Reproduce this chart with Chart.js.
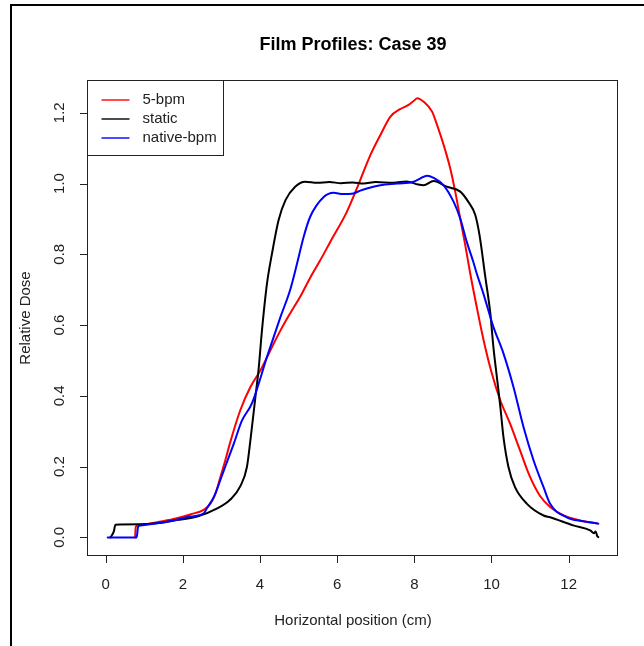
<!DOCTYPE html>
<html>
<head>
<meta charset="utf-8">
<title>Film Profiles: Case 39</title>
<script src="https://cdn.jsdelivr.net/npm/chart.js@4.4.1/dist/chart.umd.min.js"></script>
<style>
    html, body { margin: 0; padding: 0; background: #fff; }
    canvas { display: block; }
</style>
</head>
<body>
<canvas id="profileChart" width="644" height="646"></canvas>
<script>
// Profile data (position in cm, relative dose)
const fiveBpmX = [0.76, 0.78, 0.85, 1.33, 1.76, 2.19, 2.54, 2.71, 2.84, 2.97, 3.10, 3.23, 3.49, 3.75, 4.01, 4.27, 4.53, 4.78, 5.04, 5.30, 5.56, 5.82, 6.25, 6.51, 6.86, 7.12, 7.38, 7.63, 7.85, 7.98, 8.08, 8.24, 8.46, 8.59, 8.76, 8.93, 9.06, 9.19, 9.32, 9.45, 9.62, 9.79, 10.01, 10.23, 10.48, 10.74, 11.00, 11.26, 11.52, 11.87, 12.30, 12.73];
const fiveBpmY = [0, 0.030, 0.035, 0.043, 0.052, 0.065, 0.078, 0.095, 0.122, 0.170, 0.218, 0.270, 0.360, 0.425, 0.472, 0.529, 0.585, 0.633, 0.680, 0.734, 0.783, 0.835, 0.920, 0.986, 1.080, 1.137, 1.189, 1.210, 1.222, 1.233, 1.241, 1.231, 1.203, 1.165, 1.109, 1.043, 0.977, 0.901, 0.826, 0.745, 0.650, 0.560, 0.463, 0.387, 0.322, 0.246, 0.171, 0.117, 0.086, 0.062, 0.048, 0.040];

const staticX = [0.12, 0.21, 0.25, 0.90, 1.30, 1.76, 2.37, 2.89, 3.23, 3.49, 3.66, 3.75, 3.88, 3.96, 4.05, 4.18, 4.31, 4.48, 4.66, 4.91, 5.17, 5.48, 5.80, 6.10, 6.40, 6.68, 7.00, 7.46, 7.80, 8.10, 8.24, 8.50, 8.84, 9.19, 9.40, 9.58, 9.69, 9.84, 9.97, 10.05, 10.14, 10.23, 10.31, 10.44, 10.61, 10.92, 11.35, 11.52, 12.12, 12.56, 12.66, 12.70, 12.74, 12.77];
const staticY = [0, 0.017, 0.036, 0.037, 0.040, 0.048, 0.059, 0.082, 0.107, 0.145, 0.199, 0.274, 0.397, 0.472, 0.585, 0.717, 0.802, 0.896, 0.953, 0.991, 1.005, 1.002, 1.004, 1.001, 1.003, 1.000, 1.004, 1.002, 1.006, 0.997, 0.995, 1.007, 0.991, 0.977, 0.948, 0.911, 0.854, 0.736, 0.633, 0.538, 0.453, 0.369, 0.284, 0.199, 0.142, 0.095, 0.062, 0.057, 0.034, 0.020, 0.012, 0.017, 0.004, 0.001];

const nativeBpmX = [0.05, 0.80, 0.84, 0.90, 1.33, 1.76, 2.19, 2.54, 2.63, 2.80, 3.06, 3.32, 3.53, 3.75, 3.82, 4.18, 4.53, 4.78, 4.96, 5.13, 5.30, 5.65, 5.91, 6.15, 6.42, 6.60, 6.77, 7.12, 7.55, 7.98, 8.15, 8.33, 8.50, 8.76, 9.02, 9.19, 9.36, 9.53, 9.62, 9.79, 10.05, 10.31, 10.57, 10.83, 11.09, 11.35, 11.52, 11.95, 12.38, 12.77];
const nativeBpmY = [0, 0, 0.030, 0.034, 0.040, 0.048, 0.059, 0.068, 0.084, 0.114, 0.189, 0.265, 0.330, 0.370, 0.387, 0.510, 0.623, 0.699, 0.774, 0.849, 0.906, 0.962, 0.974, 0.970, 0.972, 0.980, 0.986, 0.995, 1.000, 1.005, 1.014, 1.022, 1.016, 0.995, 0.948, 0.901, 0.835, 0.778, 0.745, 0.689, 0.595, 0.520, 0.425, 0.312, 0.218, 0.142, 0.095, 0.057, 0.046, 0.039];

// Axis ticks
const xTicks = [0, 2, 4, 6, 8, 10, 12];
const yTicks = [0, 0.2, 0.4, 0.6, 0.8, 1.0, 1.2];

const seriesNames = ['5-bpm', 'static', 'native-bpm'];
const seriesColors = ['#ff0000', '#000000', '#0000ff'];

const FONT = '"Liberation Sans", Arial, sans-serif';

const toPoints = (xs, ys) => xs.map((x, i) => ({ x: x, y: ys[i] }));

// Base-graphics style frame, axes, titles and legend
const basePlotPlugin = {
    id: 'basePlot',
    beforeDraw(chart) {
        const ctx = chart.ctx;
        ctx.save();
        ctx.fillStyle = '#fff';
        ctx.fillRect(0, 0, chart.width, chart.height);
        // outer frame (left and top edges visible)
        ctx.fillStyle = '#000';
        ctx.fillRect(10, 4, 2, chart.height);
        ctx.fillRect(10, 4, chart.width, 2);
        ctx.restore();
    },
    afterDraw(chart) {
        const { ctx, chartArea: area, scales: { x, y } } = chart;
        const left = Math.floor(area.left) - 0.5;
        const top = Math.floor(area.top) - 0.5;
        const right = Math.floor(area.right) - 0.5;
        const bottom = Math.floor(area.bottom) + 0.5;

        ctx.save();
        ctx.strokeStyle = '#222';
        ctx.lineWidth = 1;
        ctx.strokeRect(left, top, right - left, bottom - top);

        // x axis
        ctx.fillStyle = '#222';
        ctx.font = '15px ' + FONT;
        ctx.textAlign = 'center';
        ctx.textBaseline = 'middle';
        ctx.beginPath();
        xTicks.forEach(v => {
            const px = Math.round(x.getPixelForValue(v)) + 0.5;
            ctx.moveTo(px, bottom);
            ctx.lineTo(px, bottom + 7.5);
        });
        ctx.stroke();
        xTicks.forEach(v => {
            ctx.fillText(String(v), x.getPixelForValue(v), 585);
        });

        // y axis, labels parallel to the axis
        ctx.beginPath();
        yTicks.forEach(v => {
            const py = Math.round(y.getPixelForValue(v)) + 0.5;
            ctx.moveTo(left, py);
            ctx.lineTo(left - 7.5, py);
        });
        ctx.stroke();
        yTicks.forEach(v => {
            ctx.save();
            ctx.translate(60, y.getPixelForValue(v));
            ctx.rotate(-Math.PI / 2);
            ctx.fillText(v.toFixed(1), 0, 0);
            ctx.restore();
        });

        // axis titles
        const midX = (area.left + area.right) / 2;
        const midY = (area.top + area.bottom) / 2;
        ctx.fillText('Horizontal position (cm)', midX, 621);
        ctx.save();
        ctx.translate(26, midY);
        ctx.rotate(-Math.PI / 2);
        ctx.fillText('Relative Dose', 0, 0);
        ctx.restore();

        // main title
        ctx.fillStyle = '#000';
        ctx.font = 'bold 18px ' + FONT;
        ctx.fillText('Film Profiles: Case 39', midX, 45);

        // legend box in the top-left corner
        const legendW = 136;
        const legendH = 75;
        ctx.fillStyle = '#fff';
        ctx.fillRect(left, top, legendW, legendH);
        ctx.strokeStyle = '#222';
        ctx.strokeRect(left, top, legendW, legendH);
        ctx.font = '15px ' + FONT;
        ctx.textAlign = 'left';
        ctx.lineWidth = 1.4;
        seriesNames.forEach((name, i) => {
            const ly = Math.round(top + 19 + i * 19);
            ctx.strokeStyle = seriesColors[i];
            ctx.beginPath();
            ctx.moveTo(left + 14, ly);
            ctx.lineTo(left + 42, ly);
            ctx.stroke();
            ctx.fillStyle = '#222';
            ctx.fillText(name, left + 55, ly);
        });
        ctx.restore();
    }
};

const profileCtx = document.getElementById('profileChart').getContext('2d');
const profileChart = new Chart(profileCtx, {
    type: 'scatter',
    data: {
        datasets: [
            {
                label: seriesNames[0],
                data: toPoints(fiveBpmX, fiveBpmY),
                borderColor: seriesColors[0],
                order: 3
            },
            {
                label: seriesNames[1],
                data: toPoints(staticX, staticY),
                borderColor: seriesColors[1],
                order: 2
            },
            {
                label: seriesNames[2],
                data: toPoints(nativeBpmX, nativeBpmY),
                borderColor: seriesColors[2],
                order: 1
            }
        ].map(ds => Object.assign(ds, {
            showLine: true,
            pointRadius: 0,
            borderWidth: 2,
            cubicInterpolationMode: 'monotone',
            fill: false,
            borderCapStyle: 'round',
            borderJoinStyle: 'round'
        }))
    },
    options: {
        responsive: false,
        animation: false,
        events: [],
        layout: {
            padding: { left: 88, top: 81, right: 26, bottom: 91 }
        },
        plugins: {
            legend: { display: false },
            title: { display: false },
            tooltip: { enabled: false }
        },
        scales: {
            x: {
                type: 'linear',
                min: -0.46,
                max: 13.28,
                display: false
            },
            y: {
                type: 'linear',
                min: -0.0496,
                max: 1.2896,
                display: false
            }
        }
    },
    plugins: [basePlotPlugin]
});
</script>
</body>
</html>
